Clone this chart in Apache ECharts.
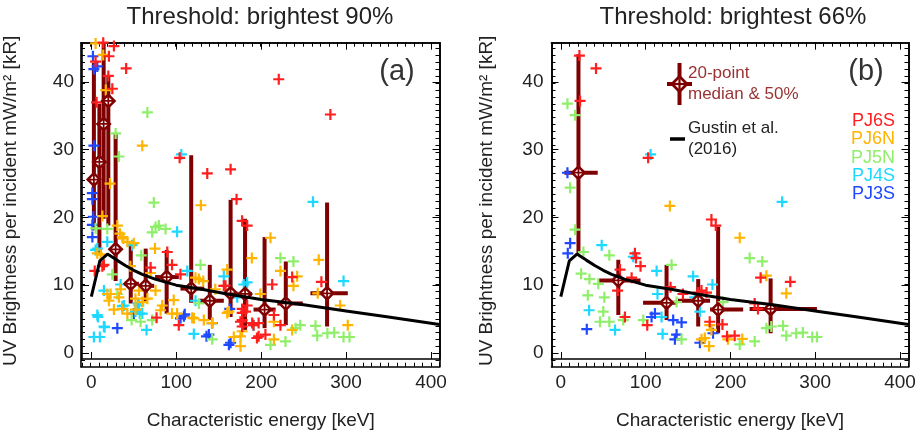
<!DOCTYPE html>
<html><head><meta charset="utf-8">
<script src="https://cdn.jsdelivr.net/npm/echarts@6/dist/echarts.min.js"></script>
<style>html,body{margin:0;padding:0;background:#fff}#c{width:924px;height:435px}</style>
</head><body><div id="c"></div>
<script>
// ---------- DATA ----------
const titles = ['Threshold: brightest 90%', 'Threshold: brightest 66%'];
const xTickLabels = [0, 100, 200, 300, 400];
const yTickLabels = [0, 10, 20, 30, 40];
const seriesNames = ['PJ3S', 'PJ4S', 'PJ5N', 'PJ6N', 'PJ6S'];
const seriesColors = ['#1f48ff', '#1ed9ff', '#8fef6a', '#ffb400', '#ff1e1e'];

// Panel (a): threshold 90%
const a_PJ6S = [[5,43],[14,45.8],[26.6,45.3],[20.7,43.8],[41,42],[20,40.9],[24.7,39],[6.2,37],[104,28.8],[136.5,26.5],[164,27.1],[171,22.7],[220.7,40.4],[281.5,35.2],[177.6,19.5],[183.5,18.8],[89.4,14.9],[95,13],[69.8,12.6],[13,12.8],[14.8,13],[4,12.1],[156,9.9],[105,11.6],[103,4.1],[76.8,5.2],[177.6,4.85],[177.6,3.9],[195,2.2],[236.5,11.2],[213,10.1],[158,9.9],[183.5,7],[177.6,6.5],[181.5,6.1],[177.6,5.9],[215,5.6],[175.6,4.6],[189.4,4.4],[197,4.4],[222.7,4.1],[205,2.7],[197,2.45],[270.9,10.5],[191,4.1]];
const a_PJ6N = [[5,45.7],[14,44],[17,38.8],[60,30.6],[22,25],[129,21.8],[13,20.2],[30.6,18.8],[33.7,17.6],[37.6,16.9],[42.4,16.4],[74.9,15.4],[189,14],[7,14.7],[122.7,11.1],[131.8,10.6],[18.8,8.7],[20.7,7.7],[97,7.8],[26.6,6.4],[36.5,6.5],[52,6.4],[42.4,5.8],[101,5.8],[118.8,5.2],[132.5,4.85],[162,6.1],[175.6,1],[167.8,2.35],[177.6,3.2],[36.5,17.1],[50,16.2],[11,14.5],[46,12.8],[69.8,11.8],[34.5,9.4],[56,9.2],[75.6,9.2],[22.7,8.7],[32.5,8.2],[52,8],[60,7.5],[66,8],[83.5,7],[81.5,6.3],[95,5.8],[211,17],[222.7,12.1],[242.4,11.3],[238,9.9],[160,12.3],[126.6,10.9],[146,9.4],[199,8.7],[160,5.9],[120.7,5.1],[142,4.4],[215,4.6],[236.5,3.4],[175.6,2.45],[215,2],[267.8,13.75],[266.6,8.8],[293,7],[302,4.1]];
const a_PJ5N = [[66,35.5],[28.6,32.4],[32.5,29],[73.6,22.2],[75.6,18.6],[87.4,18.3],[71.7,17.8],[58.8,14.4],[128.6,13],[47.4,4.85],[58,4.6],[18.8,18.3],[79.5,18.8],[24.7,11.6],[5,18.4],[30.6,8.7],[126.6,7.3],[71.7,4.85],[222.7,14],[238,13.5],[246,4.1],[240.5,3.65],[142.4,2],[211,1.2],[228.6,1.7],[264,4],[266,2.55],[278,2.9],[286,3],[297,2.35],[304,2.35]];
const a_PJ4S = [[106,29.3],[261,22.3],[7,15.4],[48,15.9],[101,17.9],[113,12.1],[14.8,9.2],[156,11.3],[183.5,10.4],[36.5,6.9],[55,7.3],[57,5.8],[7,5.6],[14.8,3.9],[65,3.4],[3,2.35],[10,2.35],[120.7,2.8],[191,4.1],[5,15.2],[18.8,16.4],[34.5,10.1],[38.4,7],[56,7],[52,6.1],[60,5.8],[7.8,5.3],[15.6,3.8],[179.5,10.1],[171.8,8.2],[122.7,7.7],[297,10.6]];
const a_PJ3S = [[1.9,43.8],[3,41.9],[7,42.3],[3,30.6],[1.2,23.6],[1.2,22.7],[2.3,20.1],[1.2,18.9],[1.2,17.1],[30.6,3.65],[110,5.7],[135.6,2.45],[142.4,4.4],[162,1.2],[50,5.8],[109,5.4],[163,6.5],[105,5.1],[138.4,2.7],[164,1.5]];

// 20-point medians (a)
const medA_E   = [3, 9.5, 14.5, 20, 28.6, 46.4, 64, 88.7, 117.6, 139.5, 164, 181, 204, 229, 277.6];
const medA_V   = [25.6, 28.2, 33.8, 37.2, 15.3, 10.2, 9.9, 11.2, 9.5, 7.7, 8.8, 8.7, 6.4, 7.3, 8.8];
const medA_Elo = [1, 7, 12, 17, 22, 38.5, 56, 75, 105, 126, 157, 173, 191, 219, 258];
const medA_Ehi = [5, 12, 17, 23, 35, 56, 74, 103, 133, 156, 172, 189, 217, 249, 302];
const medA_Vlo = [18.1, 14.7, 19.8, 18.8, 10.6, 7.3, 7.6, 5.8, 7.4, 4.85, 5.3, 3.4, 3.65, 4.1, 3.9];
const medA_Vhi = [42.8, 36.8, 45.8, 40.9, 32.3, 16.4, 15.4, 15.2, 29.2, 13.0, 22.6, 19.8, 17.1, 13.5, 22.2];

// Panel (b): threshold 66%
const b_PJ6S = [[21.9,43.9],[41.5,42],[22.7,37.2],[103,28.8],[69.8,12.3],[67,9.2],[75.6,5.3],[87.4,14.7],[88.6,14],[94,12.8],[83.5,11.1],[101.9,4.1],[129.4,9.7],[144,8.7],[162,8.9],[165.9,9.2],[171.8,8.9],[175.6,4.6],[177.6,19.7],[182.7,18.8],[235.6,11.1],[270.6,10.5],[228.6,7.3],[232.5,6.5],[190.6,4.2],[196,2.45],[205,2.55]];
const b_PJ6N = [[128.6,21.7],[211,17],[242.4,11.4],[265.9,8.8],[165.9,2],[169.8,2.2],[174.9,1],[177.6,3.4],[175.6,4.1],[197,2],[214,2.06]];
const b_PJ5N = [[7.8,36.8],[16.8,35.1],[11,24.4],[16.8,18.2],[26.6,14.9],[57.2,14.4],[23.9,11.7],[33.7,10.9],[44.2,10.2],[51.3,8.2],[31.8,8.5],[50,6.1],[46.2,4.6],[57.2,4.6],[73.6,4.85],[97.2,4.85],[130.6,13],[136.5,7.5],[142.4,2],[191.3,7.5],[222.7,14],[237.6,13.5],[242.4,3.65],[248.2,3.9],[262,4],[265.9,2.55],[277.6,2.9],[285.4,3],[296.5,2.35],[302,2.35],[228.6,1.7],[211,1.25]];
const b_PJ4S = [[105.9,29.3],[261,22.3],[48.2,15.9],[33.3,6.3],[63.9,3.4],[85.4,14.2],[113,12.1],[114,8.7],[118.8,5.3],[120,2.8],[156,11.3],[158,8.2],[164,6.1],[178.8,10.1]];
const b_PJ3S = [[7.8,26.6],[11,16.2],[8.2,14.7],[30.6,3.5],[107,5.3],[111,5.8],[132.5,4.85],[142.4,4.5],[136.5,2.7],[134.5,2],[164,1.5],[179.5,2.9]];

const medB_E   = [20.8, 67.8, 124.7, 162, 185.5, 247.4];
const medB_V   = [26.6, 10.7, 7.4, 7.7, 6.4, 6.5];
const medB_Elo = [4.2, 45, 97, 138, 176, 222.6];
const medB_Ehi = [43.5, 94, 136.5, 176, 215, 302];
const medB_Vlo = [14.7, 5.6, 4.85, 3.9, 2.9, 2.9];
const medB_Vhi = [44.1, 13.75, 13.0, 10.9, 18.6, 11.0];

// Gustin et al. (2016) relation
const gustinE = [0, 10, 19, 30, 40, 50, 60, 75, 100, 130, 160, 200, 250, 300, 350, 410];
const gustinV = [8.3, 13.6, 14.6, 13.7, 12.9, 12.2, 11.6, 10.9, 10.0, 9.4, 8.7, 7.9, 7.1, 6.2, 5.3, 4.2];

// ---------- CHART ----------
const FONT = 'Liberation Sans';
const X_MIN = -11, X_MAX = 410, Y_MIN = -0.9, Y_MAX = 45.8;
const xMinor = []; for (let v = -10; v <= 410; v += 10) xMinor.push(v);
const yMinor = []; for (let v = 0; v <= 45; v += 1) yMinor.push(v);
const DARK = '#7f0000';
const PLUS = 'path://M4,0H6V4H10V6H6V10H4V6H0V4H4Z';
const RING = 'path://M0,-10L10,0L0,10L-10,0Z M0,-5.6L-5.6,0L0,5.6L5.6,0Z M-1.1,-5.6H1.1V5.6H-1.1Z M-5.6,-1.1H5.6V1.1H-5.6Z';

const grids = [
  {left: 81, top: 42.7, width: 358.5, height: 324},
  {left: 81, top: 42.7, width: 358.5, height: 324},
  {left: 551.5, top: 42.7, width: 357, height: 324},
  {left: 551.5, top: 42.7, width: 357, height: 324}
];

function mkX(gi, pos, ticks, len, labels, name) {
  return {type: 'value', gridIndex: gi, position: pos, min: X_MIN, max: X_MAX,
    axisLine: {show: true, onZero: false, lineStyle: {color: '#000', width: 1.6}},
    axisTick: {show: true, inside: true, length: len, customValues: ticks, lineStyle: {color: '#000', width: 1}},
    axisLabel: labels ? {show: true, customValues: labels, margin: 14, fontSize: 19, color: '#222', fontFamily: FONT} : {show: false},
    splitLine: {show: false}, minorTick: {show: false},
    name: name || '', nameLocation: 'middle', nameGap: 52,
    nameTextStyle: {fontSize: 19, color: '#222', fontFamily: FONT}};
}
function mkY(gi, pos, ticks, len, labels, name, gap) {
  return {type: 'value', gridIndex: gi, position: pos, min: Y_MIN, max: Y_MAX,
    axisLine: {show: true, onZero: false, lineStyle: {color: '#000', width: 1.6}},
    axisTick: {show: true, inside: true, length: len, customValues: ticks, lineStyle: {color: '#000', width: 1}},
    axisLabel: labels ? {show: true, customValues: labels, margin: 8, fontSize: 19, color: '#222', fontFamily: FONT} : {show: false},
    splitLine: {show: false}, minorTick: {show: false},
    name: name || '', nameLocation: 'middle', nameGap: gap || 50,
    nameTextStyle: {fontSize: 19, color: '#222', fontFamily: FONT}};
}
const XNAME = 'Characteristic energy [keV]';
const YNAME = 'UV Brightness per incident mW/m² [kR]';
const xAxes = [], yAxes = [];
[[0, 1, 62], [2, 3, 55]].forEach(([gM, gm, gap]) => {
  xAxes.push(mkX(gM, 'bottom', xTickLabels, 7, xTickLabels, XNAME));
  xAxes.push(mkX(gM, 'top', xTickLabels, 7, null));
  xAxes.push(mkX(gm, 'bottom', xMinor, 4, null));
  xAxes.push(mkX(gm, 'top', xMinor, 4, null));
  yAxes.push(mkY(gM, 'left', yTickLabels, 7, yTickLabels, YNAME, gap));
  yAxes.push(mkY(gM, 'right', yTickLabels, 7, null));
  yAxes.push(mkY(gm, 'left', yMinor, 4, null));
  yAxes.push(mkY(gm, 'right', yMinor, 4, null));
});

function renderErr(params, api) {
  const e = api.value(0), v = api.value(1);
  const top = api.coord([e, api.value(5)]), bot = api.coord([e, api.value(4)]);
  const l = api.coord([api.value(2), v]), r = api.coord([api.value(3), v]);
  return {type: 'group', children: [
    {type: 'line', shape: {x1: top[0], y1: top[1], x2: bot[0], y2: bot[1]}, style: {stroke: DARK, lineWidth: 4}},
    {type: 'line', shape: {x1: l[0], y1: l[1], x2: r[0], y2: r[1]}, style: {stroke: DARK, lineWidth: 4}}
  ]};
}

function panelSeries(ai, pts, E, V, Elo, Ehi, Vlo, Vhi) {
  const out = [];
  pts.forEach((d, i) => out.push({type: 'scatter', xAxisIndex: ai, yAxisIndex: ai, data: d,
    symbol: PLUS, symbolSize: 11, itemStyle: {color: seriesColors[i], opacity: 1}, silent: true}));
  out.push({type: 'line', xAxisIndex: ai, yAxisIndex: ai, data: gustinE.map((e, i) => [e, gustinV[i]]),
    showSymbol: false, symbol: 'none', lineStyle: {color: '#000', width: 3}, silent: true});
  const med = E.map((e, i) => [e, V[i], Elo[i], Ehi[i], Vlo[i], Vhi[i]]);
  out.push({type: 'custom', xAxisIndex: ai, yAxisIndex: ai, data: med, renderItem: renderErr,
    encode: {x: 0, y: 1}, silent: true});
  const mv = E.map((e, i) => [e, V[i]]);
  out.push({type: 'scatter', xAxisIndex: ai, yAxisIndex: ai, data: mv, symbol: 'diamond', symbolSize: 15,
    itemStyle: {color: '#fff', opacity: 1}, silent: true});
  out.push({type: 'scatter', xAxisIndex: ai, yAxisIndex: ai, data: mv, symbol: RING, symbolSize: 16,
    itemStyle: {color: DARK, opacity: 1}, silent: true});
  return out;
}

const series = [].concat(
  panelSeries(0, [a_PJ3S, a_PJ4S, a_PJ5N, a_PJ6N, a_PJ6S], medA_E, medA_V, medA_Elo, medA_Ehi, medA_Vlo, medA_Vhi),
  panelSeries(4, [b_PJ3S, b_PJ4S, b_PJ5N, b_PJ6N, b_PJ6S], medB_E, medB_V, medB_Elo, medB_Ehi, medB_Vlo, medB_Vhi)
);

function txt(x, y, text, size, fill, align) {
  return {type: 'text', x: x, y: y, silent: true, z: 100,
    style: {text: text, fill: fill, font: size + 'px "' + FONT + '"', align: align || 'left', verticalAlign: 'middle'}};
}
const legendY = [121, 139.3, 157.7, 176, 194.3];
const legendOrder = ['PJ6S', 'PJ6N', 'PJ5N', 'PJ4S', 'PJ3S'];
const graphics = [
  txt(260, 17, titles[0], 24, '#222', 'center'),
  txt(733, 17, titles[1], 24, '#222', 'center'),
  txt(397, 72, '(a)', 29, '#333', 'center'),
  txt(866, 72, '(b)', 29, '#333', 'center'),
  txt(688, 73, '20-point', 17, '#993333'),
  txt(688, 94, 'median & 50%', 17, '#993333'),
  txt(688, 128, 'Gustin et al.', 17, '#222'),
  txt(688, 149, '(2016)', 17, '#222'),
  {type: 'line', z: 100, shape: {x1: 679.5, y1: 63, x2: 679.5, y2: 105}, style: {stroke: DARK, lineWidth: 4}},
  {type: 'line', z: 100, shape: {x1: 667, y1: 84, x2: 692, y2: 84}, style: {stroke: DARK, lineWidth: 4}},
  {type: 'polygon', z: 101, shape: {points: [[679.5, 76.5], [687, 84], [679.5, 91.5], [672, 84]]}, style: {fill: '#fff', stroke: DARK, lineWidth: 2.8}},
  {type: 'line', z: 102, shape: {x1: 679.5, y1: 78.5, x2: 679.5, y2: 89.5}, style: {stroke: DARK, lineWidth: 2.2}},
  {type: 'line', z: 102, shape: {x1: 674, y1: 84, x2: 685, y2: 84}, style: {stroke: DARK, lineWidth: 2.2}},
  {type: 'line', z: 100, shape: {x1: 670, y1: 139, x2: 685, y2: 139}, style: {stroke: '#000', lineWidth: 3.5}}
];
legendOrder.forEach((n, i) => {
  graphics.push(txt(895, legendY[i], n, 18, seriesColors[seriesNames.indexOf(n)], 'right'));
});

const chart = echarts.init(document.getElementById('c'), null, {renderer: 'canvas'});
chart.setOption({
  animation: false,
  backgroundColor: '#fff',
  grid: grids,
  xAxis: xAxes,
  yAxis: yAxes,
  series: series,
  graphic: graphics
});
</script></body></html>
